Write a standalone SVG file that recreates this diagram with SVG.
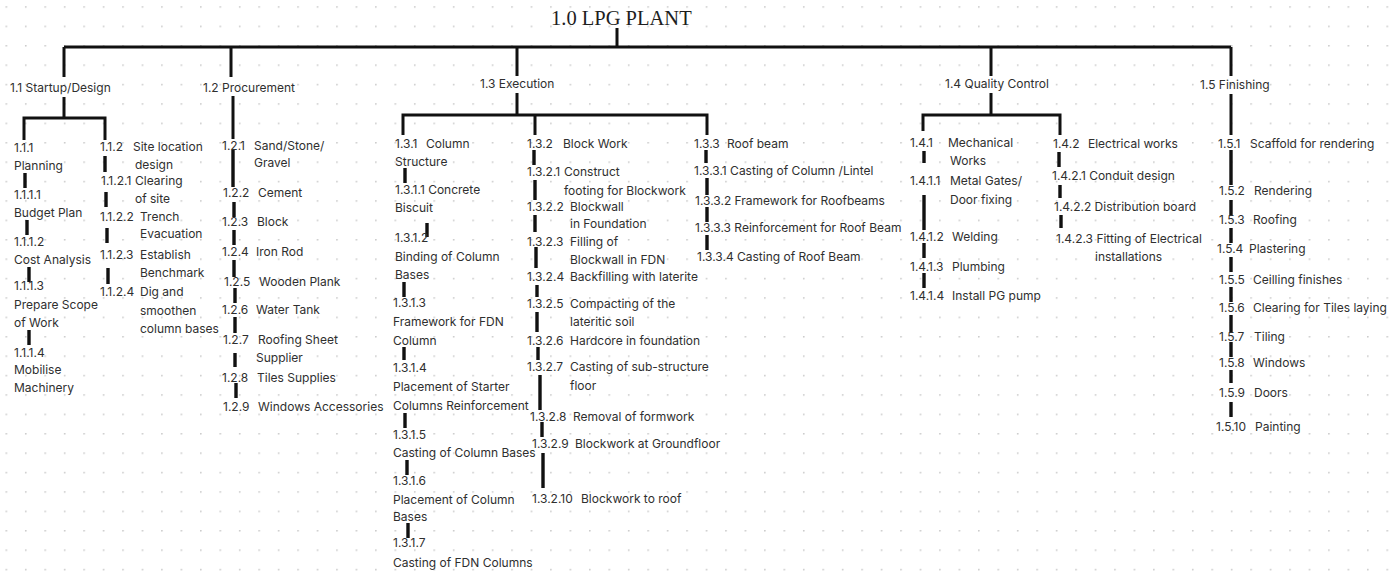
<svg xmlns="http://www.w3.org/2000/svg" width="1399" height="571" viewBox="0 0 1399 571">
<defs>
<pattern id="dots" x="5.5" y="6.2" width="19.45" height="19.4" patternUnits="userSpaceOnUse">
<circle cx="0.8" cy="0.8" r="0.9" fill="#c8c8c8"/>
</pattern>
<style>
.t{font-family:Inter,"Liberation Sans",sans-serif;font-size:12px;fill:#2f2f2f}
.h{font-family:Inter,"Liberation Sans",sans-serif;font-size:12px;fill:#2f2f2f}
.title{font-family:"Liberation Serif","DejaVu Serif",serif;font-size:20.5px;fill:#1e1e1e}
.c{stroke:#111;stroke-width:3;fill:none}
.s{stroke:#111;stroke-width:3.4;fill:none}
</style>
</defs>
<rect width="1399" height="571" fill="#ffffff"/>
<rect width="1399" height="571" fill="url(#dots)"/>

<g id="connectors">
<path class="c" d="M617 28V47M64 47H1231M64 47V77M231 47V77M517 47V76M991 47V76M1231 47V76"/>
<path class="c" d="M64 97V118M24 140V118H105V140"/>
<path class="c" d="M233 96V139"/>
<path class="c" d="M517 93V115M403 135V115H707V135M535 115V135"/>
<path class="c" d="M991 93V115M923 131V115H1060V135"/>
<path class="c" d="M1231 94V135"/>
<path class="s" d="M25 173V188M27 220V235M29 267V282M29 330V345"/>
<path class="s" d="M105 156V172M106 192V207M107 228V243M108 268V284"/>
<path class="s" d="M233 150V187M234 202V217M234 230V245M234 260V277M235 288V303M235 317V333M235 353V367M236 383V398"/>
<path class="s" d="M405 168V183M427 223V237M404 282V297M404 347V360M405 413V428M407 460V475M408 523V538"/>
<path class="s" d="M534 150V165M535 180V200M535 215V232M536 247V268M537 285V297M537 312V332M538 347V360M540 375V410M542 422V437M543 453V488"/>
<path class="s" d="M706 150V163M707 178V195M707 207V222M707 235V250"/>
<path class="s" d="M924 151V163M924 195V230M924 243V258M924 273V288"/>
<path class="s" d="M1059 152V167M1060 185V198M1061 215V228"/>
<path class="s" d="M1231 150V185M1231 200V215M1231 228V243M1231 257V272M1231 287V302M1231 315V332M1231 342V357M1231 370V383M1231 402V417"/>
</g>

<g id="n1_0"><text class="title" x="551" y="25">1.0 LPG PLANT</text></g>
<g id="n1_1"><text class="h" x="10" y="92">1.1 Startup/Design</text></g>
<g id="n1_2"><text class="h" x="203" y="92">1.2 Procurement</text></g>
<g id="n1_3"><text class="h" x="480" y="88">1.3 Execution</text></g>
<g id="n1_4"><text class="h" x="945" y="88">1.4 Quality Control</text></g>
<g id="n1_5"><text class="h" x="1200" y="89">1.5 Finishing</text></g>

<g id="n1_1_1"><text class="t" x="14" y="152">1.1.1</text><text class="t" x="14" y="170">Planning</text></g>
<g id="n1_1_1_1"><text class="t" x="14" y="199">1.1.1.1</text><text class="t" x="14" y="217">Budget Plan</text></g>
<g id="n1_1_1_2"><text class="t" x="14" y="246">1.1.1.2</text><text class="t" x="14" y="264">Cost Analysis</text></g>
<g id="n1_1_1_3"><text class="t" x="14" y="290">1.1.1.3</text><text class="t" x="14" y="309">Prepare Scope</text><text class="t" x="14" y="327">of Work</text></g>
<g id="n1_1_1_4"><text class="t" x="14" y="357">1.1.1.4</text><text class="t" x="14" y="374">Mobilise</text><text class="t" x="14" y="392">Machinery</text></g>

<g id="n1_1_2"><text class="t" x="100" y="151">1.1.2</text><text class="t" x="133" y="151">Site location</text><text class="t" x="135" y="169">design</text></g>
<g id="n1_1_2_1"><text class="t" x="101" y="185">1.1.2.1</text><text class="t" x="135" y="185">Clearing</text><text class="t" x="135" y="203">of site</text></g>
<g id="n1_1_2_2"><text class="t" x="100" y="221">1.1.2.2</text><text class="t" x="140" y="221">Trench</text><text class="t" x="140" y="238">Evacuation</text></g>
<g id="n1_1_2_3"><text class="t" x="100" y="259">1.1.2.3</text><text class="t" x="140" y="259">Establish</text><text class="t" x="140" y="277">Benchmark</text></g>
<g id="n1_1_2_4"><text class="t" x="100" y="296">1.1.2.4</text><text class="t" x="140" y="296">Dig and</text><text class="t" x="140" y="315">smoothen</text><text class="t" x="140" y="333">column bases</text></g>

<g id="n1_2_1"><text class="t" x="222" y="150">1.2.1</text><text class="t" x="254" y="150">Sand/Stone/</text><text class="t" x="254" y="167">Gravel</text></g>
<g id="n1_2_2"><text class="t" x="223" y="197">1.2.2</text><text class="t" x="258" y="197">Cement</text></g>
<g id="n1_2_3"><text class="t" x="222" y="226">1.2.3</text><text class="t" x="257" y="226">Block</text></g>
<g id="n1_2_4"><text class="t" x="222" y="256">1.2.4</text><text class="t" x="256" y="256">Iron Rod</text></g>
<g id="n1_2_5"><text class="t" x="224" y="286">1.2.5</text><text class="t" x="259" y="286">Wooden Plank</text></g>
<g id="n1_2_6"><text class="t" x="222" y="314">1.2.6</text><text class="t" x="256" y="314">Water Tank</text></g>
<g id="n1_2_7"><text class="t" x="223" y="344">1.2.7</text><text class="t" x="258" y="344">Roofing Sheet</text><text class="t" x="256" y="362">Supplier</text></g>
<g id="n1_2_8"><text class="t" x="222" y="382">1.2.8</text><text class="t" x="257" y="382">Tiles Supplies</text></g>
<g id="n1_2_9"><text class="t" x="223" y="411">1.2.9</text><text class="t" x="258" y="411">Windows Accessories</text></g>

<g id="n1_3_1"><text class="t" x="395" y="148">1.3.1</text><text class="t" x="426" y="148">Column</text><text class="t" x="395" y="166">Structure</text></g>
<g id="n1_3_1_1"><text class="t" x="395" y="194">1.3.1.1 Concrete</text><text class="t" x="395" y="212">Biscuit</text></g>
<g id="n1_3_1_2"><text class="t" x="395" y="242">1.3.1.2</text><text class="t" x="395" y="261">Binding of Column</text><text class="t" x="395" y="279">Bases</text></g>
<g id="n1_3_1_3"><text class="t" x="393" y="307">1.3.1.3</text><text class="t" x="393" y="326">Framework for FDN</text><text class="t" x="393" y="345">Column</text></g>
<g id="n1_3_1_4"><text class="t" x="393" y="372">1.3.1.4</text><text class="t" x="393" y="391">Placement of Starter</text><text class="t" x="393" y="410">Columns Reinforcement</text></g>
<g id="n1_3_1_5"><text class="t" x="393" y="439">1.3.1.5</text><text class="t" x="393" y="457">Casting of Column Bases</text></g>
<g id="n1_3_1_6"><text class="t" x="393" y="485">1.3.1.6</text><text class="t" x="393" y="504">Placement of Column</text><text class="t" x="393" y="521">Bases</text></g>
<g id="n1_3_1_7"><text class="t" x="393" y="547">1.3.1.7</text><text class="t" x="393" y="567">Casting of FDN Columns</text></g>

<g id="n1_3_2"><text class="t" x="527" y="148">1.3.2</text><text class="t" x="563" y="148">Block Work</text></g>
<g id="n1_3_2_1"><text class="t" x="527" y="176">1.3.2.1</text><text class="t" x="564" y="176">Construct</text><text class="t" x="564" y="195">footing for Blockwork</text></g>
<g id="n1_3_2_2"><text class="t" x="527" y="211">1.3.2.2</text><text class="t" x="570" y="211">Blockwall</text><text class="t" x="570" y="228">in Foundation</text></g>
<g id="n1_3_2_3"><text class="t" x="527" y="246">1.3.2.3</text><text class="t" x="570" y="246">Filling of</text><text class="t" x="570" y="264">Blockwall in FDN</text></g>
<g id="n1_3_2_4"><text class="t" x="527" y="281">1.3.2.4</text><text class="t" x="570" y="281">Backfilling with laterite</text></g>
<g id="n1_3_2_5"><text class="t" x="527" y="308">1.3.2.5</text><text class="t" x="570" y="308">Compacting of the</text><text class="t" x="570" y="326">lateritic soil</text></g>
<g id="n1_3_2_6"><text class="t" x="527" y="345">1.3.2.6</text><text class="t" x="570" y="345">Hardcore in foundation</text></g>
<g id="n1_3_2_7"><text class="t" x="527" y="371">1.3.2.7</text><text class="t" x="570" y="371">Casting of sub-structure</text><text class="t" x="570" y="390">floor</text></g>
<g id="n1_3_2_8"><text class="t" x="530" y="421">1.3.2.8</text><text class="t" x="573" y="421">Removal of formwork</text></g>
<g id="n1_3_2_9"><text class="t" x="532" y="448">1.3.2.9</text><text class="t" x="575" y="448">Blockwork at Groundfloor</text></g>
<g id="n1_3_2_10"><text class="t" x="532" y="503">1.3.2.10</text><text class="t" x="581" y="503">Blockwork to roof</text></g>

<g id="n1_3_3"><text class="t" x="694" y="148">1.3.3</text><text class="t" x="727" y="148">Roof beam</text></g>
<g id="n1_3_3_1"><text class="t" x="694" y="175">1.3.3.1 Casting of Column /Lintel</text></g>
<g id="n1_3_3_2"><text class="t" x="695" y="205">1.3.3.2 Framework for Roofbeams</text></g>
<g id="n1_3_3_3"><text class="t" x="695" y="232">1.3.3.3 Reinforcement for Roof Beam</text></g>
<g id="n1_3_3_4"><text class="t" x="697" y="261">1.3.3.4 Casting of Roof Beam</text></g>

<g id="n1_4_1"><text class="t" x="910" y="147">1.4.1</text><text class="t" x="948" y="147">Mechanical</text><text class="t" x="950" y="165">Works</text></g>
<g id="n1_4_1_1"><text class="t" x="910" y="185">1.4.1.1</text><text class="t" x="950" y="185">Metal Gates/</text><text class="t" x="950" y="204">Door fixing</text></g>
<g id="n1_4_1_2"><text class="t" x="910" y="241">1.4.1.2</text><text class="t" x="952" y="241">Welding</text></g>
<g id="n1_4_1_3"><text class="t" x="910" y="271">1.4.1.3</text><text class="t" x="952" y="271">Plumbing</text></g>
<g id="n1_4_1_4"><text class="t" x="910" y="300">1.4.1.4</text><text class="t" x="952" y="300">Install PG pump</text></g>

<g id="n1_4_2"><text class="t" x="1053" y="148">1.4.2</text><text class="t" x="1088" y="148">Electrical works</text></g>
<g id="n1_4_2_1"><text class="t" x="1052" y="180">1.4.2.1 Conduit design</text></g>
<g id="n1_4_2_2"><text class="t" x="1054" y="211">1.4.2.2 Distribution board</text></g>
<g id="n1_4_2_3"><text class="t" x="1056" y="243">1.4.2.3 Fitting of Electrical</text><text class="t" x="1095" y="261">installations</text></g>

<g id="n1_5_1"><text class="t" x="1218" y="148">1.5.1</text><text class="t" x="1250" y="148">Scaffold for rendering</text></g>
<g id="n1_5_2"><text class="t" x="1219" y="195">1.5.2</text><text class="t" x="1254" y="195">Rendering</text></g>
<g id="n1_5_3"><text class="t" x="1219" y="224">1.5.3</text><text class="t" x="1253" y="224">Roofing</text></g>
<g id="n1_5_4"><text class="t" x="1217" y="253">1.5.4</text><text class="t" x="1249" y="253">Plastering</text></g>
<g id="n1_5_5"><text class="t" x="1219" y="284">1.5.5</text><text class="t" x="1253" y="284">Ceilling finishes</text></g>
<g id="n1_5_6"><text class="t" x="1219" y="312">1.5.6</text><text class="t" x="1253" y="312">Clearing for Tiles laying</text></g>
<g id="n1_5_7"><text class="t" x="1219" y="341">1.5.7</text><text class="t" x="1254" y="341">Tiling</text></g>
<g id="n1_5_8"><text class="t" x="1219" y="367">1.5.8</text><text class="t" x="1253" y="367">Windows</text></g>
<g id="n1_5_9"><text class="t" x="1219" y="397">1.5.9</text><text class="t" x="1254" y="397">Doors</text></g>
<g id="n1_5_10"><text class="t" x="1216" y="431">1.5.10</text><text class="t" x="1255" y="431">Painting</text></g>
</svg>
